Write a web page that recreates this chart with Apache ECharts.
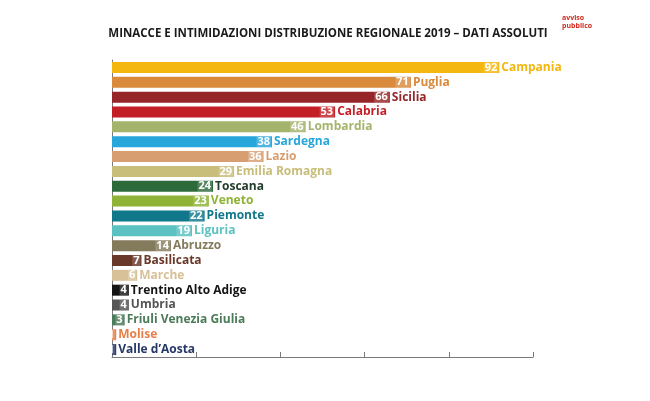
<!DOCTYPE html>
<html>
	<head>
		<meta charset="utf-8" />
		<title>minacce 2019</title>
		<script src="https://cdn.jsdelivr.net/npm/echarts@6/dist/echarts.min.js"></script>
		<style>
			html, body { margin: 0; padding: 0; background: #fff; }
		</style>
	</head>
	<body>
		<div id="chart" style="width:650px;height:401px;"></div>
	</body>

	<script type="text/javascript">

	// dati regionali 2019
	var regioni = ['Campania', 'Puglia', 'Sicilia', 'Calabria', 'Lombardia', 'Sardegna', 'Lazio',
		'Emilia Romagna', 'Toscana', 'Veneto', 'Piemonte', 'Liguria', 'Abruzzo', 'Basilicata',
		'Marche', 'Trentino Alto Adige', 'Umbria', 'Friuli Venezia Giulia', 'Molise', "Valle d\u2019Aosta"];
	var valori = [92, 71, 66, 53, 46, 38, 36, 29, 24, 23, 22, 19, 14, 7, 6, 4, 4, 3, 1, 1];
	var assiTick = [0, 20, 40, 60, 80, 100];

	// colori delle barre
	var colori = ['#f4b70f', '#d98a3c', '#962528', '#c41f26', '#a4b46c', '#27a6dc', '#d69e71',
		'#c8bd79', '#2d6a3a', '#8eb336', '#10788a', '#5cc1c1', '#847a5c', '#6a3828',
		'#d8c198', '#151515', '#555555', '#4b7b58', '#e77f48', '#263868'];
	var coloriTesto = colori.slice();
	coloriTesto[8] = '#243d2c';

	var font = '"Open Sans", sans-serif';

	var myChart = echarts.init(document.getElementById('chart'));

	var option = {
		backgroundColor: '#fff',
		animation: false,
		title: {
			text: 'MINACCE E INTIMIDAZIONI DISTRIBUZIONE REGIONALE 2019 \u2013 DATI ASSOLUTI',
			left: 323,
			textAlign: 'center',
			top: 23,
			textStyle: {
				fontFamily: font,
				fontWeight: 'bold',
				fontSize: 11.5,
				color: '#1a1a1a'
			}
		},
		graphic: [
			{
				type: 'text',
				left: 562,
				top: 14,
				style: {
					text: 'avviso\npubblico',
					fontFamily: font,
					fontWeight: 'bold',
					fontSize: 7,
					lineHeight: 8,
					fill: '#d42a1e',
					align: 'center'
				}
			}
		],
		grid: {
			left: 112,
			right: 117,
			top: 60,
			bottom: 44
		},
		xAxis: {
			type: 'value',
			min: assiTick[0],
			max: assiTick[assiTick.length - 1],
			interval: 20,
			axisLine: {show: true, lineStyle: {color: '#7a7a7a', width: 1}},
			axisTick: {show: true, inside: true, length: 5, lineStyle: {color: '#7a7a7a'}},
			axisLabel: {show: false},
			splitLine: {show: false}
		},
		yAxis: {
			type: 'category',
			inverse: true,
			data: regioni,
			axisLine: {show: true, lineStyle: {color: '#7a7a7a', width: 1}},
			axisTick: {show: false},
			axisLabel: {show: false}
		},
		series: [
			{
				type: 'bar',
				barWidth: 11,
				data: valori.map(function (v, i) {
					return {value: v, itemStyle: {color: colori[i]}};
				}),
				label: {
					show: true,
					position: 'insideRight',
					distance: 1,
					color: '#fff',
					fontFamily: font,
					fontWeight: 'bold',
					fontSize: 11,
					backgroundColor: 'rgba(255,255,255,0.18)',
					padding: [0, 1, 0, 1]
				}
			},
			{
				// nomi delle regioni a destra della barra
				type: 'bar',
				barWidth: 11,
				barGap: '-100%',
				silent: true,
				itemStyle: {color: 'rgba(0,0,0,0)'},
				data: valori.map(function (v, i) {
					return {
						value: v,
						label: {color: coloriTesto[i]}
					};
				}),
				label: {
					show: true,
					position: 'right',
					distance: 2,
					fontFamily: font,
					fontWeight: 'bold',
					fontSize: 12,
					formatter: function (p) { return regioni[p.dataIndex]; }
				}
			}
		]
	};
	myChart.setOption(option);

	</script>
</html>
